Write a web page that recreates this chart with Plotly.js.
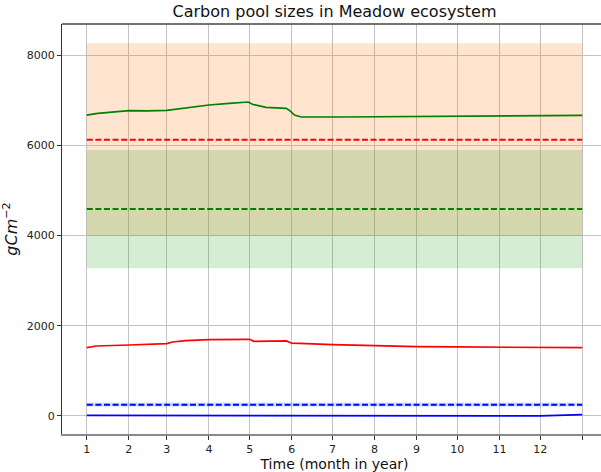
<!DOCTYPE html>
<html>
<head>
<meta charset="utf-8">
<script src="https://cdn.plot.ly/plotly-3.0.1.min.js"></script>
<style>
html,body{margin:0;padding:0;overflow:hidden;background:#fff;}
#chart{width:608px;height:472px;}
</style>
</head>
<body>
<div id="chart"></div>
<script>
// Month start ticks (day of year) and labels
var tickDays = [0, 31, 59, 90, 120, 151, 181, 212, 243, 273, 304, 334, 365];
var tickLabels = ['1','2','3','4','5','6','7','8','9','10','11','12',' '];

// Solid lines (pool sizes over the year)
var greenDays = [0, 8, 31, 45, 59, 75, 90, 105, 119, 122, 132, 147, 150, 153, 158, 187, 243, 304, 365];
var greenVals = [6670, 6712, 6770, 6765, 6778, 6840, 6896, 6930, 6962, 6911, 6845, 6822, 6760, 6674, 6630, 6630, 6645, 6655, 6665];

var redDays = [0, 7, 31, 59, 63, 73, 90, 118, 120, 123, 147, 151, 157, 181, 212, 243, 273, 304, 334, 365];
var redVals = [1514, 1552, 1574, 1603, 1640, 1670, 1692, 1707, 1700, 1656, 1663, 1612, 1610, 1581, 1552, 1537, 1530, 1523, 1515, 1515];

var blueDays = [0, 120, 125, 334, 365];
var blueVals = [15, 15, 0, 0, 28];

// Dashed reference levels and their bands
var spanDays = [0, 365];
var blueRef = 250, blueLo = 205, blueHi = 300;
var redRef = 6125, orangeLo = 4000, orangeHi = 8264;
var greenRef = 4590, greenLo = 3275, greenHi = 5898;

function band(lo, hi, color) {
  return {
    x: [spanDays[0], spanDays[1], spanDays[1], spanDays[0]],
    y: [lo, lo, hi, hi],
    fill: 'toself', fillcolor: color, mode: 'none',
    hoverinfo: 'skip', showlegend: false, type: 'scatter'
  };
}
function level(v, color) {
  return {
    x: spanDays, y: [v, v], mode: 'lines',
    line: {color: color, width: 2, dash: '6px,2.6px'},
    showlegend: false, type: 'scatter'
  };
}
function solid(xs, ys, color) {
  return {
    x: xs, y: ys, mode: 'lines',
    line: {color: color, width: 1.7},
    showlegend: false, type: 'scatter'
  };
}

var data = [
  band(blueLo, blueHi, 'rgba(31,119,180,0.2)'),
  band(orangeLo, orangeHi, 'rgba(255,127,14,0.2)'),
  band(greenLo, greenHi, 'rgba(44,160,44,0.2)'),
  level(blueRef, '#0000ff'),
  level(redRef, '#ff0000'),
  level(greenRef, '#008000'),
  solid(blueDays, blueVals, '#0000ff'),
  solid(redDays, redVals, '#ff0000'),
  solid(greenDays, greenVals, '#008000')
];

var font = 'DejaVu Sans, sans-serif';
var layout = {
  width: 608, height: 472,
  margin: {l: 62, r: 1, t: 24, b: 38},
  paper_bgcolor: '#fff', plot_bgcolor: '#fff',
  font: {family: font, color: '#222', size: 11},
  title: {text: 'Carbon pool sizes in Meadow ecosystem', font: {family: font, size: 16, color: '#111'},
          xref: 'paper', x: 0.5, xanchor: 'center', yref: 'container', y: 0.975, yanchor: 'middle'},
  xaxis: {
    range: [-18.25, 383.25], tickvals: tickDays, ticktext: tickLabels,
    showgrid: true, gridcolor: '#c4c4c4', gridwidth: 1,
    showline: true, linecolor: '#8a8a8a', linewidth: 2,
    ticks: 'outside', ticklen: 4, tickcolor: '#333', tickwidth: 1,
    zeroline: false, tickfont: {size: 11, family: font, color: '#222'},
    title: {text: 'Time (month in year)', font: {size: 14, family: font, color: '#111'}, standoff: 6}
  },
  yaxis: {
    range: [-400, 8692], tickvals: [0, 2000, 4000, 6000, 8000], tickformat: 'd',
    showgrid: true, gridcolor: '#c4c4c4', gridwidth: 1,
    showline: true, linecolor: '#333', linewidth: 1,
    ticks: 'outside', ticklen: 4, tickcolor: '#333', tickwidth: 1,
    zeroline: false, tickfont: {size: 11, family: font, color: '#222'},
    title: {text: '<i>gCm</i><sup>−2</sup>', font: {size: 16, family: font, color: '#111'}, standoff: 10}
  },
  shapes: [
    {type: 'line', xref: 'paper', yref: 'paper', x0: 0, x1: 1, y0: 1, y1: 1,
     line: {color: '#444', width: 1.5}}
  ]
};

Plotly.newPlot('chart', data, layout, {displayModeBar: false, staticPlot: true});
</script>
</body>
</html>
